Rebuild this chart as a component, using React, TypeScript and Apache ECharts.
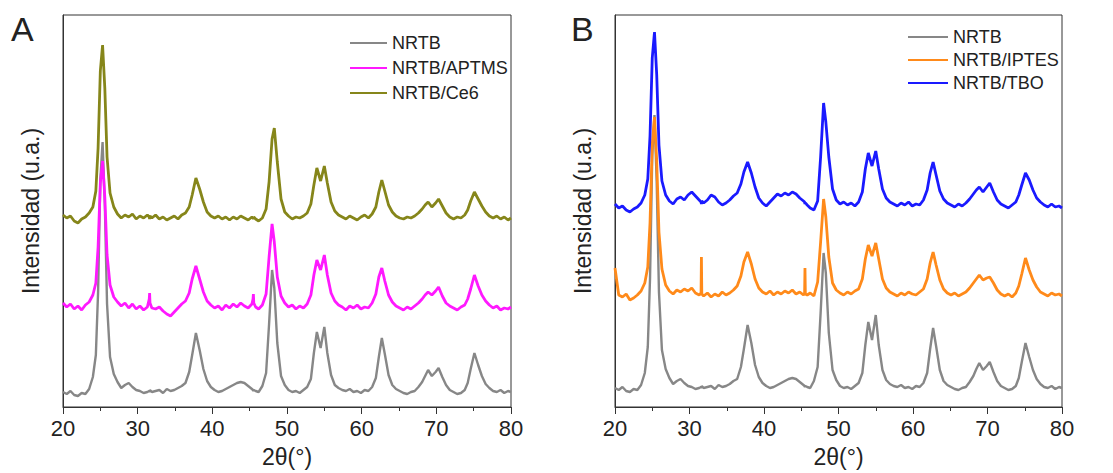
import React, { useEffect, useRef } from "react";
import * as echarts from "echarts";

// 2θ sampling positions (degrees) shared by all traces
const twoTheta = [
  20, 20.5, 21, 21.5, 22, 22.5, 23, 23.5, 24,
  24.4, 24.7, 25.0, 25.3, 25.6, 25.9, 26.3, 26.8,
  27.3, 27.8, 28.3, 28.8, 29.3, 29.8, 30.3, 30.8, 31.3,
  31.55, 31.6, 31.65, 31.9,
  32.4, 32.9, 33.4, 33.9, 34.4, 34.9, 35.4, 35.9,
  36.4, 36.9, 37.3, 37.8, 38.3, 38.8, 39.3, 39.8,
  40.3, 40.8, 41.3, 41.8, 42.3, 42.8, 43.3, 43.8, 44.3, 44.8, 45.3,
  45.45, 45.5, 45.55,
  45.8, 46.2, 46.7, 47.2, 47.6, 48.0, 48.3, 48.7, 49.2, 49.7,
  50.2, 50.7, 51.2, 51.7, 52.2, 52.7, 53.2, 53.6, 54.0, 54.5, 55.0, 55.4, 55.9, 56.4, 56.9,
  57.4, 57.9, 58.4, 58.9, 59.4, 59.9, 60.4, 60.9, 61.4, 61.9, 62.3, 62.7, 63.1, 63.6, 64.1, 64.6,
  65.1, 65.6, 66.1, 66.6, 67.1, 67.6, 68.1, 68.5, 68.9, 69.4, 69.9, 70.3, 70.8, 71.3, 71.8,
  72.3, 72.8, 73.3, 73.8, 74.2, 74.6, 75.1, 75.6, 76.1, 76.6, 77.1,
  77.6, 78.1, 78.6, 79.1, 79.6, 80,
];

// Panel A
const nrtbA = [
  15, 13, 16, 12, 11, 14, 13, 18, 30,
  52, 115, 227, 265, 203, 103, 50, 33,
  25, 19, 22, 24, 20, 17, 16, 14, 15,
  16, 15, 17, 15,
  16, 17, 14, 18, 16, 17, 19, 21,
  24, 35, 52, 74, 57, 38, 26, 20,
  17, 15, 16, 18, 20, 22, 24, 25, 24, 21, 18,
  17, 16, 17,
  16, 15, 21, 34, 83, 137, 119, 64, 31, 22,
  17, 15, 16, 14, 17, 20, 28, 54, 75, 59, 80, 54, 32, 22, 19,
  17, 16, 18, 15, 16, 14, 17, 16, 20, 29, 50, 69, 53, 32, 22, 18,
  16, 14, 13, 15, 16, 20, 25, 31, 37, 31, 35, 39, 30, 22, 17,
  15, 13, 14, 17, 24, 38, 54, 42, 31, 23, 19,
  16, 15, 17, 14, 16, 15,
];
const nrtbAptms = [
  104, 100, 103, 98, 101, 97, 102, 105, 112,
  124, 160, 224, 246, 210, 152, 122, 110,
  105, 101, 104, 99, 103, 98, 101, 97, 100,
  108, 114, 104, 99,
  98, 100, 96, 93, 91, 95, 99, 103,
  106, 114, 128, 141, 128, 115, 106, 102,
  99, 101, 97, 102, 99, 103, 100, 104, 101, 99, 103,
  108, 113, 104,
  100, 98, 102, 113, 150, 183, 165, 130, 111, 104,
  100, 102, 98, 101, 99, 103, 112, 132, 147, 137, 152, 132, 114, 106, 102,
  100, 97, 101, 99, 102, 98, 100, 99, 104, 113, 130, 139, 126, 112, 105, 101,
  99, 97, 100, 98, 101, 104, 108, 112, 115, 112, 116, 120, 111, 104, 101,
  99, 97, 100, 102, 108, 118, 132, 121, 112, 106, 102,
  99, 101, 97, 99, 98, 100,
];
const nrtbCe6 = [
  192, 189, 191, 186, 184, 188, 190, 194, 200,
  216, 259, 336, 362, 319, 250, 214, 200,
  193, 189, 192, 190, 193, 188, 191, 189, 192,
  190, 188, 191, 189,
  192, 188, 190, 187, 189, 191, 188, 192,
  194, 200, 212, 229, 218, 205, 195, 191,
  189, 191, 188, 190, 187, 190, 188, 191, 189, 187, 190,
  189, 188, 190,
  188, 186, 189, 198, 225, 268, 279, 245, 208, 195,
  191, 188, 190, 189, 191, 194, 203, 222, 239, 226, 241, 224, 205, 196, 192,
  190, 188, 191, 189, 187, 190, 192, 189, 193, 200, 215, 227, 216, 202, 195, 191,
  189, 188, 190, 189, 191, 194, 198, 202, 205, 200, 204, 208, 201, 194, 190,
  188, 190, 189, 192, 197, 206, 215, 208, 201, 195, 191,
  189, 191, 188, 190, 187, 189,
];

// Panel B
const nrtbB = [
  19, 17, 20, 16, 15, 18, 17, 22, 34,
  60, 128, 251, 292, 224, 115, 57, 38,
  29, 23, 26, 28, 24, 21, 20, 18, 19,
  20, 19, 21, 19,
  20, 21, 18, 22, 20, 21, 23, 26,
  28, 40, 58, 82, 64, 42, 30, 24,
  21, 19, 20, 22, 24, 26, 28, 29, 28, 25, 22,
  21, 20, 21,
  20, 19, 26, 40, 94, 154, 134, 74, 37, 27,
  21, 19, 20, 18, 21, 24, 34, 62, 85, 67, 92, 62, 37, 27, 23,
  21, 20, 22, 19, 20, 18, 21, 20, 24, 34, 58, 79, 61, 37, 26, 22,
  20, 18, 17, 19, 20, 25, 31, 38, 44, 37, 41, 45, 35, 26, 21,
  19, 17, 18, 21, 29, 45, 64, 50, 37, 28, 23,
  20, 19, 21, 18, 20, 19,
];
const nrtbIptes = [
  139, 112, 110, 113, 107, 109, 112, 116, 124,
  140, 184, 263, 290, 246, 175, 138, 122,
  116, 113, 117, 115, 118, 116, 119, 114, 112,
  114, 150, 113, 111,
  114, 110, 113, 111, 115, 112, 114, 117,
  121, 131, 145, 155, 143, 128, 119, 115,
  113, 116, 112, 115, 113, 116, 114, 117, 113, 115, 112,
  114, 139, 113,
  112, 114, 111, 125, 165, 208, 190, 150, 124, 117,
  114, 112, 115, 113, 116, 118, 128, 148, 162, 151, 164, 148, 128, 119, 115,
  113, 111, 114, 112, 115, 113, 112, 115, 118, 128, 144, 155, 142, 127, 118, 114,
  112, 114, 111, 113, 115, 119, 124, 128, 132, 127, 129, 130, 124, 117, 113,
  111, 113, 110, 114, 121, 133, 149, 137, 127, 120, 115,
  113, 111, 114, 112, 113, 111,
];
const nrtbTbo = [
  203, 199, 201, 197, 195, 198, 200, 204, 212,
  228, 271, 349, 375, 332, 262, 226, 212,
  206, 203, 208, 210, 207, 212, 215, 211, 207,
  205, 203, 206, 204,
  207, 212, 210, 205, 202, 204, 207, 211,
  214, 223, 235, 245, 234, 220, 209, 204,
  201, 205, 209, 213, 211, 214, 212, 215, 213, 209, 206,
  205, 203, 204,
  202, 199, 197, 206, 250, 304, 285, 250, 218, 207,
  203, 205, 202, 204, 201, 205, 215, 238, 254, 241, 256, 238, 218, 209, 205,
  203, 201, 204, 202, 205, 201, 203, 202, 207, 217, 234, 245, 232, 216, 208, 204,
  202, 200, 203, 201, 204, 208, 213, 217, 220, 215, 220, 224, 215, 207, 203,
  201, 199, 202, 205, 212, 222, 234, 227, 217, 209, 205,
  202, 200, 203, 200, 201, 199,
];

const namesA = ["NRTB", "NRTB/APTMS", "NRTB/Ce6"];
const namesB = ["NRTB", "NRTB/IPTES", "NRTB/TBO"];
const colorsA = ["#878787", "#ff19ff", "#86861a"];
const colorsB = ["#878787", "#ff8a1a", "#1a1aff"];

const FONT = "Liberation Sans, Arial, sans-serif";
const TXT = "#222";
const AX = "#333";

function xAxisOpt(gridIndex: number) {
  return {
    type: "value",
    gridIndex,
    min: 20,
    max: 80,
    interval: 10,
    axisLine: { show: true, onZero: false, lineStyle: { color: AX, width: 1 } },
    axisTick: { show: true, inside: false, length: 7, lineStyle: { color: AX } },
    minorTick: { show: true, splitNumber: 2, length: 4, lineStyle: { color: AX } },
    splitLine: { show: false },
    axisLabel: { fontSize: 22, color: TXT, margin: 10, fontFamily: FONT },
    name: "2θ(°)",
    nameLocation: "middle",
    nameGap: 38,
    nameTextStyle: { fontSize: 23, color: TXT, fontFamily: FONT },
  };
}

function yAxisOpt(gridIndex: number) {
  return {
    type: "value",
    gridIndex,
    min: 0,
    max: 392,
    axisLine: { show: true, lineStyle: { color: AX, width: 1 } },
    axisTick: { show: false },
    axisLabel: { show: false },
    splitLine: { show: false },
    name: "Intensidad (u.a.)",
    nameLocation: "middle",
    nameGap: 21,
    nameTextStyle: { fontSize: 23, color: TXT, fontFamily: FONT },
  };
}

function lineSeries(name: string, values: number[], color: string, idx: number, width: number) {
  return {
    type: "line",
    name,
    xAxisIndex: idx,
    yAxisIndex: idx,
    data: twoTheta.map((x, i) => [x, values[i]]),
    showSymbol: false,
    symbol: "none",
    lineStyle: { color, width },
    itemStyle: { color },
  };
}

export default function App() {
  const ref = useRef<HTMLDivElement>(null);
  useEffect(() => {
    if (!ref.current) return;
    const chart = echarts.init(ref.current, null, { renderer: "svg" });
    const widths = [2.4, 2.8, 2.8];
    const seriesA = [nrtbA, nrtbAptms, nrtbCe6].map((v, i) => lineSeries(namesA[i], v, colorsA[i], 0, widths[i]));
    const seriesB = [nrtbB, nrtbIptes, nrtbTbo].map((v, i) => lineSeries(namesB[i], v, colorsB[i], 1, widths[i]));
    chart.setOption({
      animation: false,
      backgroundColor: "#fff",
      grid: [
        { left: 63, right: 602, top: 15, bottom: 66, show: true, borderColor: AX, borderWidth: 1 },
        { left: 615, right: 51, top: 15, bottom: 66, show: true, borderColor: AX, borderWidth: 1 },
      ],
      xAxis: [xAxisOpt(0), xAxisOpt(1)],
      yAxis: [yAxisOpt(0), yAxisOpt(1)],
      legend: [
        {
          data: namesA,
          orient: "vertical",
          left: 345,
          top: 29,
          itemWidth: 37,
          itemHeight: 2,
          itemGap: 7,
          icon: "rect",
          selectedMode: false,
          textStyle: { fontSize: 18, color: TXT, fontFamily: FONT },
        },
        {
          data: namesB.map((n, i) => ({ name: n, itemStyle: { color: colorsB[i] } })),
          orient: "vertical",
          left: 903,
          top: 23,
          itemWidth: 40,
          itemHeight: 2,
          itemGap: 5,
          icon: "rect",
          selectedMode: false,
          textStyle: { fontSize: 18, color: TXT, fontFamily: FONT },
        },
      ],
      graphic: [
        { type: "text", left: 11, top: 12, style: { text: "A", fontSize: 34, fill: TXT, fontFamily: FONT } },
        { type: "text", left: 571, top: 12, style: { text: "B", fontSize: 34, fill: TXT, fontFamily: FONT } },
      ],
      series: [...seriesA, ...seriesB],
    });
    return () => chart.dispose();
  }, []);
  return (
    <div
      ref={ref}
      style={{ position: "fixed", left: 0, top: 0, width: 1113, height: 473 }}
    />
  );
}
